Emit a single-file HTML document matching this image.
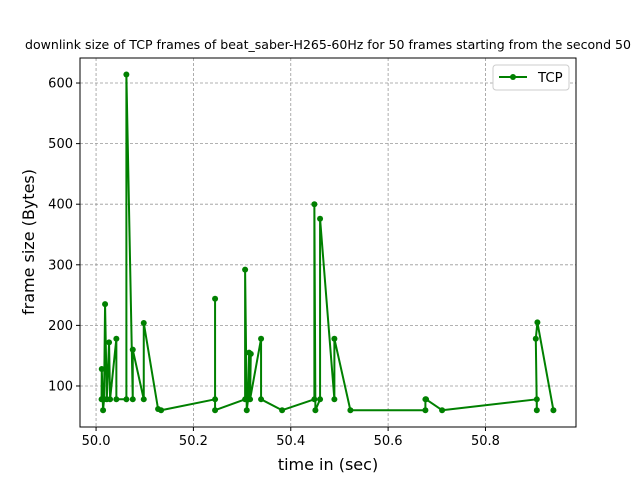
<!DOCTYPE html>
<html><head><meta charset="utf-8"><style>
body{margin:0;background:#fff;}
svg{display:block;font-family:"DejaVu Sans","Liberation Sans",sans-serif;}
</style></head><body>
<svg id="chart" width="640" height="480" viewBox="0 0 640 480">
<rect width="640" height="480" fill="#fff"/>
<text x="328" y="49" font-size="12" text-anchor="middle" textLength="606" lengthAdjust="spacingAndGlyphs">downlink size of TCP frames of beat_saber-H265-60Hz for 50 frames starting from the second 50</text>
<g id="grid"></g>
<g id="series"></g>
<rect x="80" y="58" width="496" height="369" fill="none" stroke="#000" stroke-width="1"/>
<g id="axes"></g>
<text x="328" y="470" font-size="16" text-anchor="middle">time in (sec)</text>
<text x="34" y="242" font-size="16" text-anchor="middle" transform="rotate(-90 34 242)">frame size (Bytes)</text>
<g>
<rect x="493" y="65" width="76" height="25" rx="3" fill="#fff" stroke="#ccc"/>
<line x1="499" y1="77" x2="527" y2="77" stroke="green" stroke-width="2"/>
<circle cx="513" cy="77" r="3" fill="green"/>
<text x="538" y="82" font-size="13.3">TCP</text>
</g>
</svg>
<script>
const times=[50.0113,50.0117,50.0144,50.0164,50.0185,50.022,50.0267,50.0288,50.0417,50.0417,50.0623,50.0623,50.0754,50.0754,50.098,50.098,50.1274,50.1336,50.2445,50.2445,50.2445,50.3062,50.3062,50.3096,50.3123,50.3144,50.3179,50.3164,50.339,50.339,50.3822,50.4485,50.4485,50.4506,50.4602,50.4602,50.4896,50.4896,50.5225,50.6766,50.6766,50.678,50.7109,50.9055,50.9055,50.9034,50.9067,50.9396];
const sizes=[78,128,60,78,235,78,172,78,178,78,78,614,78,160,78,204,62,60,78,244,60,78,292,60,78,155,153,78,178,78,60,78,400,60,78,376,78,178,60,60,78,78,60,78,60,178,205,60];
const xTicks=[50.0,50.2,50.4,50.6,50.8];
const yTicks=[100,200,300,400,500,600];
const X0=80,X1=576,Y0=427,Y1=58;
const xMin=49.967,xMax=50.986,yMin=32.3,yMax=641.3;
function sx(t){return X0+(t-xMin)/(xMax-xMin)*(X1-X0);}
function sy(v){return Y0-(v-yMin)/(yMax-yMin)*(Y0-Y1);}
const NS="http://www.w3.org/2000/svg";
const grid=document.getElementById('grid'),axes=document.getElementById('axes'),ser=document.getElementById('series');
function mk(tag,attrs,parent){const e=document.createElementNS(NS,tag);for(const k in attrs)e.setAttribute(k,attrs[k]);parent.appendChild(e);return e;}
xTicks.forEach(t=>{const x=sx(t);
 const g=mk('line',{x1:x,x2:x,y1:Y1,y2:Y0,stroke:'#999','stroke-width':0.8,'stroke-dasharray':'3,2'},grid);
 
 
 const tk=mk('line',{x1:x,x2:x,y1:Y0,y2:Y0+4,stroke:'#000'},axes);
 
 
 const tx=mk('text',{x:x,y:Y0+18,'font-size':13,'text-anchor':'middle'},axes);tx.textContent=t.toFixed(1);
 
 
});
yTicks.forEach(v=>{const y=sy(v);
 const g=mk('line',{x1:X0,x2:X1,y1:y,y2:y,stroke:'#999','stroke-width':0.8,'stroke-dasharray':'3,2'},grid);
 
 
 const tk=mk('line',{x1:X0-4,x2:X0,y1:y,y2:y,stroke:'#000'},axes);
 
 
 const tx=mk('text',{x:X0-7,y:y+4.5,'font-size':13,'text-anchor':'end'},axes);tx.textContent=v;
 
 
});
const pts=times.map((t,i)=>sx(t).toFixed(2)+','+sy(sizes[i]).toFixed(2)).join(' ');
const pl=mk('polyline',{points:pts,fill:'none',stroke:'green','stroke-width':2,'stroke-linejoin':'round'},ser);


times.forEach((t,i)=>{const c=mk('circle',{cx:sx(t),cy:sy(sizes[i]),r:3,fill:'green'},ser);
 
 
});
</script>
</body></html>
